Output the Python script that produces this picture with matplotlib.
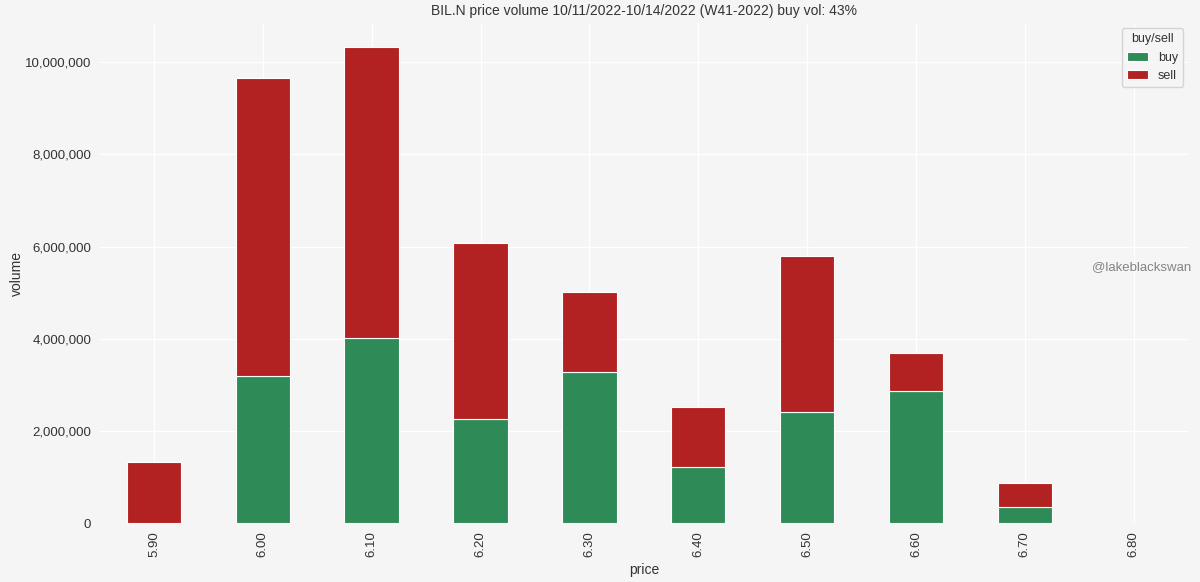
import matplotlib
matplotlib.use("Agg")
import matplotlib.pyplot as plt
import pandas as pd
from matplotlib.ticker import FuncFormatter

prices = ["5.90", "6.00", "6.10", "6.20", "6.30", "6.40", "6.50", "6.60", "6.70", "6.80"]
buy = [0, 3200000, 4020000, 2260000, 3280000, 1220000, 2410000, 2870000, 350000, 0]
sell = [1337000, 6470000, 6310000, 3830000, 1740000, 1300000, 3390000, 830000, 520000, 12000]

title = "BIL.N price volume 10/11/2022-10/14/2022 (W41-2022) buy vol: 43%"

plt.rcParams['font.family'] = ['Liberation Sans', 'DejaVu Sans']
bg = '#f5f5f5'
plt.rcParams.update({
    'figure.facecolor': bg,
    'axes.facecolor': bg,
    'axes.edgecolor': 'white',
    'axes.grid': True,
    'grid.color': 'white',
    'grid.linewidth': 1.0,
    'axes.axisbelow': True,
    'xtick.color': '#333333',
    'ytick.color': '#333333',
    'text.color': '#333333',
    'axes.labelcolor': '#333333',
})

df = pd.DataFrame({'buy': buy, 'sell': sell}, index=prices)
df.columns.name = 'buy/sell'
df.index.name = 'price'

fig, ax = plt.subplots(figsize=(12, 5.82), dpi=100)
fig.subplots_adjust(left=0.083, right=0.99, top=0.96, bottom=0.101)
df.plot(kind='bar', stacked=True, ax=ax, color=['#2e8b57', '#b22222'],
        edgecolor='white', linewidth=0.8, width=0.5)
for s in ax.spines.values():
    s.set_visible(False)
ax.tick_params(axis='both', length=0, labelsize=9.5, pad=6)
ax.yaxis.set_major_formatter(FuncFormatter(lambda v, p: f"{int(v):,}"))
ax.set_title(title, fontsize=10, pad=6)
ax.set_xlabel('price', fontsize=10)
ax.set_ylabel('volume', fontsize=10, labelpad=1)
leg = ax.legend(title='buy/sell', loc='upper right', fontsize=9, title_fontsize=9,
                frameon=True, facecolor=bg, edgecolor='#cccccc', handlelength=1.7,
                borderaxespad=0.4)
ax.text(1.003, 0.512, '@lakeblackswan', transform=ax.transAxes, ha='right', va='center',
        fontsize=9.5, color='#777777', alpha=0.9)
fig.savefig('out.png', dpi=100, facecolor=bg)
